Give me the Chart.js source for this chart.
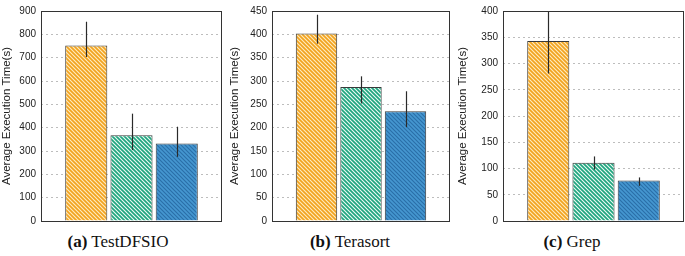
<!DOCTYPE html>
<html>
<head>
<meta charset="utf-8">
<script src="https://cdn.jsdelivr.net/npm/chart.js@4.4.1/dist/chart.umd.min.js"></script>
<style>
  html, body { margin: 0; padding: 0; background: #fff; }
  body { width: 685px; height: 256px; position: relative; overflow: hidden; }
  .panel { position: absolute; top: 0; }
  .caption { position: absolute; top: 232px; font-family: "Liberation Serif", serif; font-size: 17px; color: #111; white-space: nowrap; transform: translateX(-50%); }
</style>
</head>
<body>
<div class="panel" style="left:0px"><canvas id="chartA" width="228" height="232"></canvas></div>
<div class="panel" style="left:228px"><canvas id="chartB" width="228" height="232"></canvas></div>
<div class="panel" style="left:456px"><canvas id="chartC" width="229" height="232"></canvas></div>
<div class="caption" style="left:118px"><b>(a)</b> TestDFSIO</div>
<div class="caption" style="left:350px"><b>(b)</b> Terasort</div>
<div class="caption" style="left:572px"><b>(c)</b> Grep</div>
<script>
// three configurations per benchmark (no legend in the figure)
const configs = ['Config 1', 'Config 2', 'Config 3'];

// TestDFSIO
const dfsioMeans = [752, 367, 332];
const dfsioLow   = [703, 304, 275];
const dfsioHigh  = [854, 460, 404];
// Terasort
const terasortMeans = [402, 287, 235];
const terasortLow   = [380, 252, 201];
const terasortHigh  = [442, 310, 278];
// Grep
const grepMeans = [343, 111, 77];
const grepLow   = [281, 98, 67];
const grepHigh  = [405, 123, 83];

const yMaxes = [900, 450, 400];
const ySteps = [100, 50, 50];

function hatch(bg, fg, lw) {
  const c = document.createElement('canvas');
  c.width = 4; c.height = 4;
  const g = c.getContext('2d');
  g.fillStyle = bg;
  g.fillRect(0, 0, 4, 4);
  g.strokeStyle = fg;
  g.lineWidth = lw;
  g.beginPath();
  g.moveTo(-1, -1); g.lineTo(5, 5);
  g.moveTo(-1, 3); g.lineTo(1, 5);
  g.moveTo(3, -1); g.lineTo(5, 1);
  g.stroke();
  return g.createPattern(c, 'repeat');
}

const fills = [
  hatch('#fdecc0', '#f2a31f', 1.7),
  hatch('#eefaf5', '#1fa57f', 1.7),
  hatch('#4597d0', '#2a6ea8', 1.1)
];

const errorBars = {
  id: 'errorBars',
  afterDatasetsDraw(chart, args, opts) {
    const ctx = chart.ctx;
    const y = chart.scales.y;
    const meta = chart.getDatasetMeta(0);
    const a = chart.chartArea;
    ctx.save();
    ctx.beginPath();
    ctx.rect(a.left, a.top, a.right - a.left, a.bottom - a.top);
    ctx.clip();
    ctx.strokeStyle = '#2a2a2a';
    ctx.lineWidth = 1.2;
    opts.low.forEach((lo, i) => {
      const el = meta.data[i + 1];
      const x = Math.round(el.x) + 0.5;
      ctx.beginPath();
      ctx.moveTo(x, y.getPixelForValue(lo));
      ctx.lineTo(x, y.getPixelForValue(opts.high[i]));
      ctx.stroke();
    });
    ctx.restore();
  }
};

const frame = {
  id: 'frame',
  afterDraw(chart) {
    const a = chart.chartArea;
    const ctx = chart.ctx;
    ctx.save();
    ctx.strokeStyle = '#333';
    ctx.lineWidth = 1;
    ctx.strokeRect(Math.round(a.left) + 0.5, Math.round(a.top) + 0.5,
      Math.round(a.right - a.left) - 1, Math.round(a.bottom - a.top));
    ctx.restore();
  }
};

function makeChart(id, means, low, high, yMax, step, axisWidth, padRight) {
  const labels = ['', ...configs, ''];
  new Chart(document.getElementById(id), {
    type: 'bar',
    data: {
      labels: labels,
      datasets: [{
        data: [null, ...means, null],
        backgroundColor: ['#fff', ...fills, '#fff'],
        borderColor: '#3a3a3a',
        borderWidth: 1,
        barPercentage: 0.93,
        categoryPercentage: 1.0
      }]
    },
    options: {
      responsive: false,
      devicePixelRatio: 1,
      animation: false,
      layout: { padding: { left: 0, right: padRight, top: 6, bottom: 5 } },
      plugins: {
        legend: { display: false },
        tooltip: { enabled: false },
        errorBars: { low: low, high: high }
      },
      scales: {
        x: { type: 'category', display: false, offset: false },
        y: {
          min: 0, max: yMax,
          afterFit(scale) { scale.width = axisWidth; },
          ticks: { stepSize: step, padding: 5, color: '#222',
                   font: { family: 'Liberation Sans', size: 10 } },
          grid: { drawTicks: false, color: '#bdbdbd', lineWidth: 1 },
          border: { display: false, dash: [2, 3] },
          title: { display: true, text: 'Average Execution Time(s)', color: '#222',
                   padding: 0, font: { family: 'Liberation Sans', size: 11.5 } }
        }
      }
    },
    plugins: [errorBars, frame]
  });
}

makeChart('chartA', dfsioMeans, dfsioLow, dfsioHigh, yMaxes[0], ySteps[0], 41, 6);
makeChart('chartB', terasortMeans, terasortLow, terasortHigh, yMaxes[1], ySteps[1], 44, 6);
makeChart('chartC', grepMeans, grepLow, grepHigh, yMaxes[2], ySteps[2], 47, 1);
</script>
</body>
</html>
